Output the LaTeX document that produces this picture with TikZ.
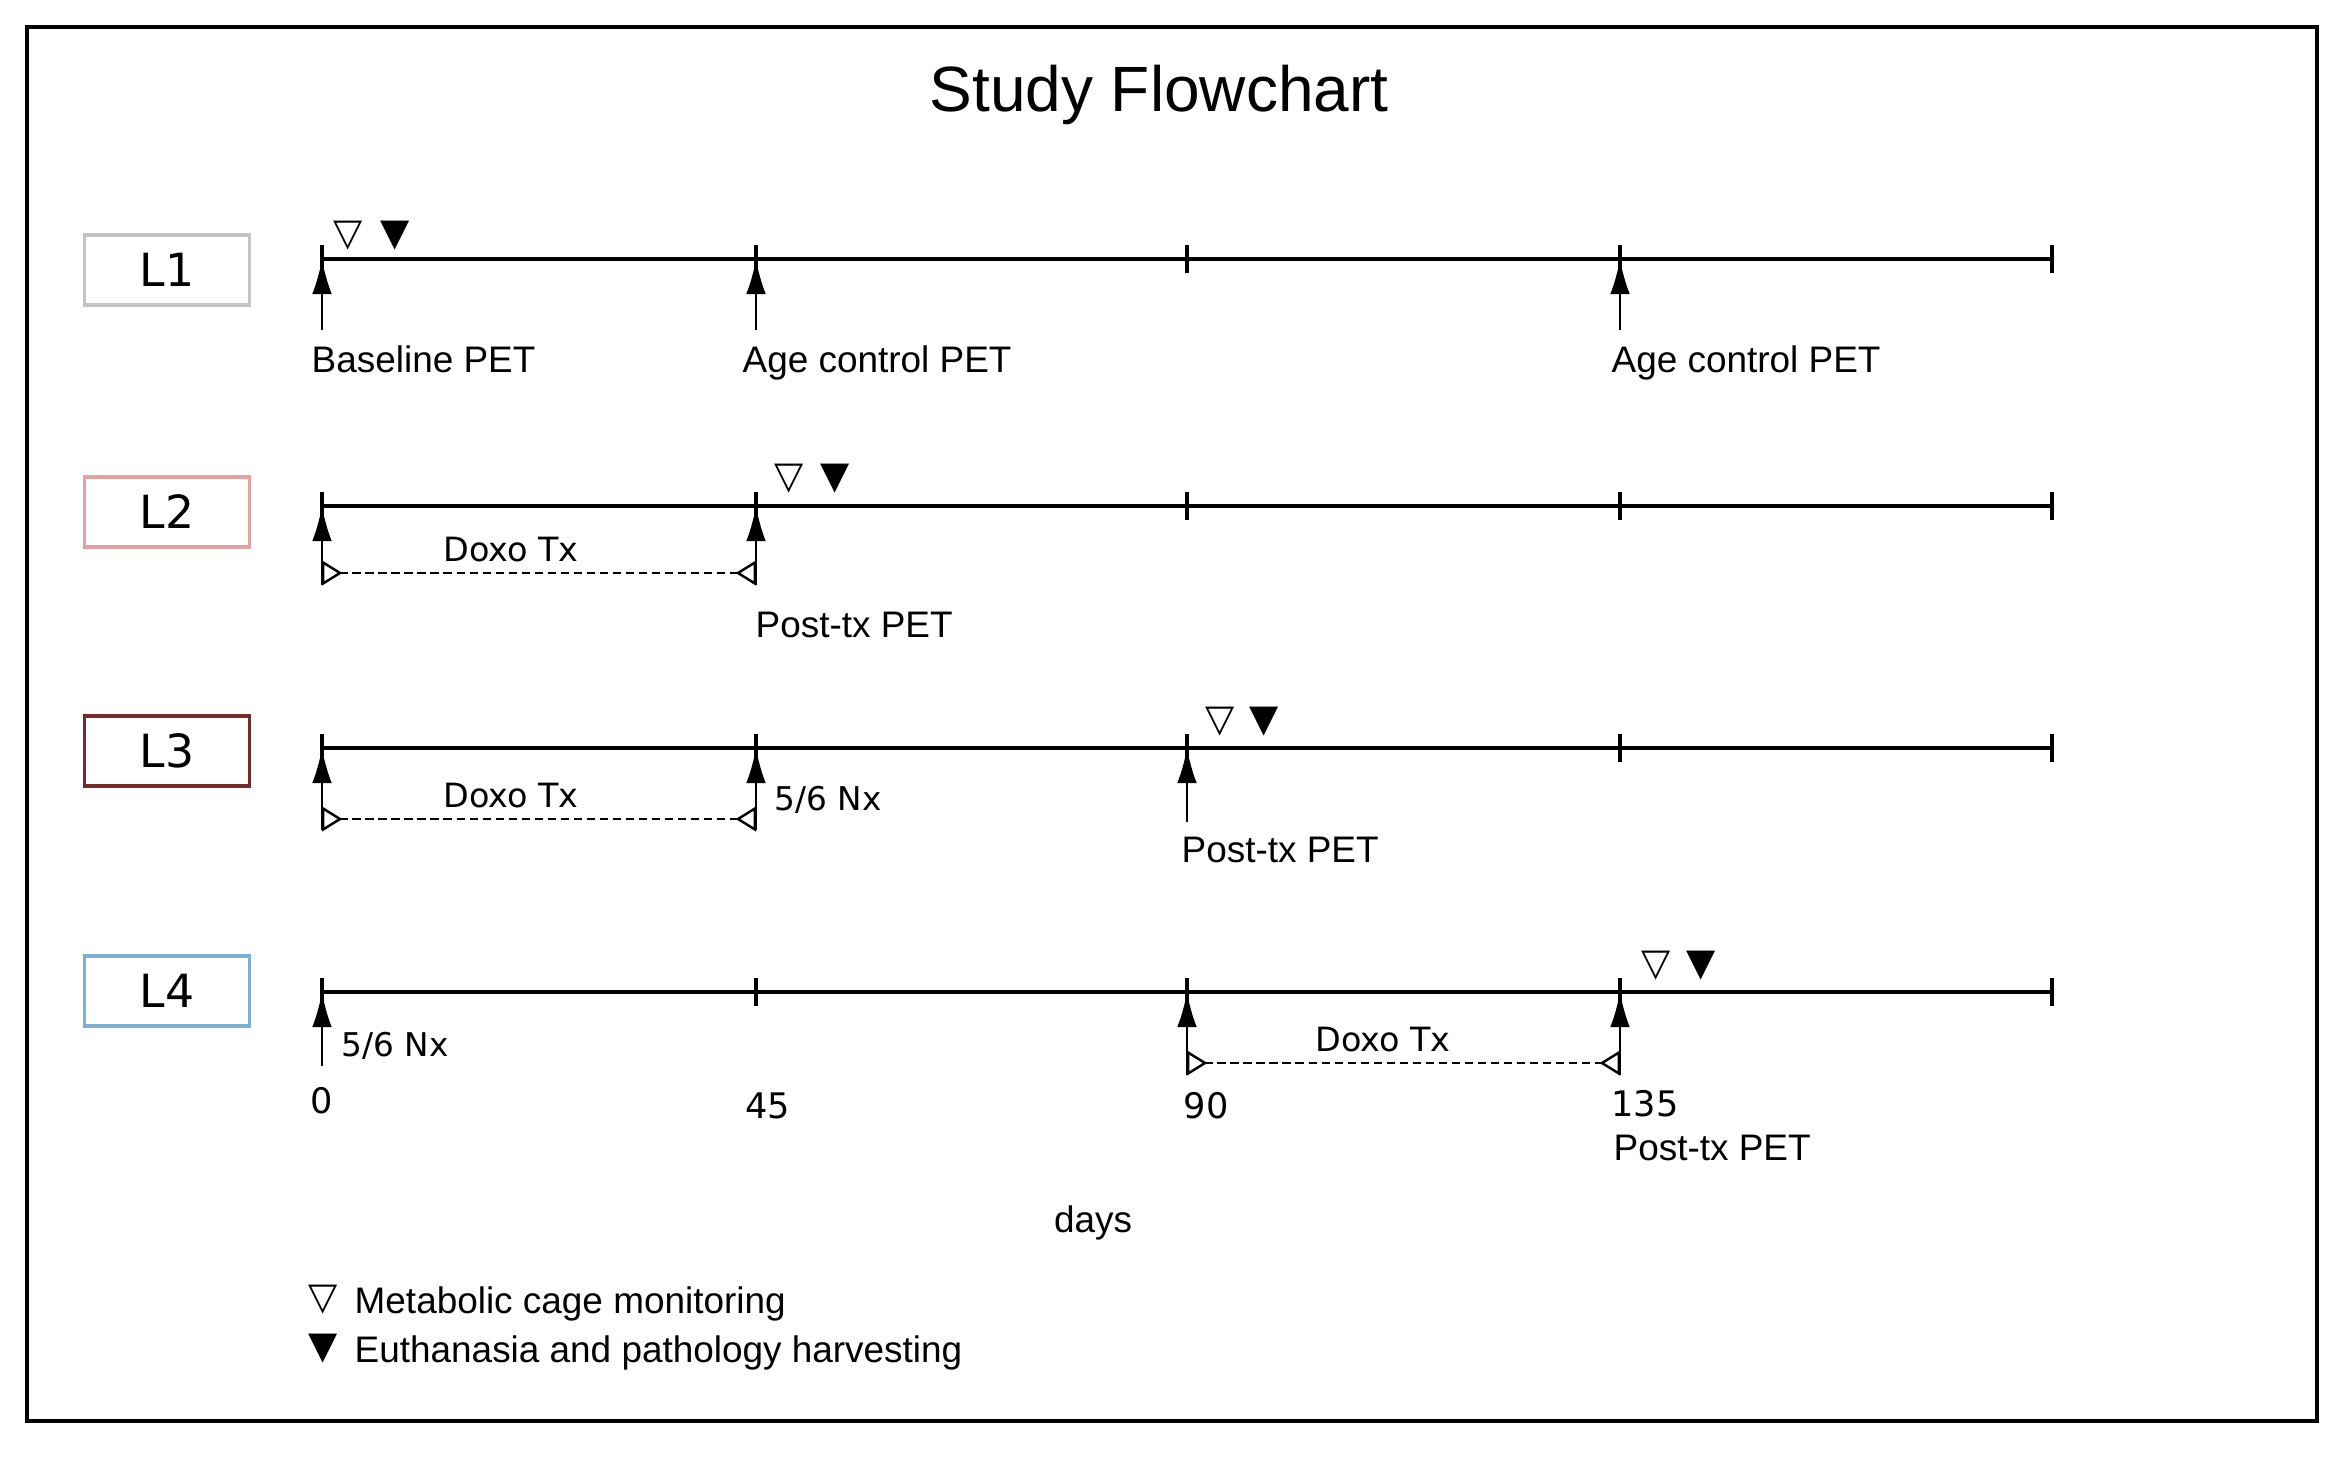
\documentclass[tikz,border=0pt]{standalone}
\usepackage{fontspec}
\setmainfont{Liberation Sans}
\newfontfamily\vfont{DejaVu Sans}
\usepackage{xcolor}
\usepackage{tikz}
\usetikzlibrary{arrows.meta,positioning}
\definecolor{laneGrey}{HTML}{C4C4C4}
\definecolor{lanePink}{HTML}{E6A0A0}
\definecolor{laneMaroon}{HTML}{742A2A}
\definecolor{laneBlue}{HTML}{7DB0D2}

\tikzset{
  lanebox/.style={draw, line width=0.9pt, minimum width=1.65cm, minimum height=0.7cm,
    inner sep=0pt, font=\vfont\fontsize{13}{15}\selectfont},
  timeline/.style={line width=0.95pt},
  evtarrow/.style={-{Latex[length=10pt,width=5.6pt]}, line width=0.65pt},
  txspan/.style={dash pattern=on 2.4pt off 1.3pt, line width=0.7pt,
    {Triangle[open,reversed,length=5.8pt,width=7pt]}-{Triangle[open,reversed,length=5.8pt,width=7pt]}},
  evtlabel/.style={anchor=base west, inner sep=0pt},
  txlabel/.style={anchor=base, inner sep=0pt, font=\vfont\fontsize{9.5}{11}\selectfont},
  nxlabel/.style={anchor=base west, inner sep=0pt, font=\vfont\fontsize{9.3}{11}\selectfont},
  daylabel/.style={anchor=base, inner sep=0pt, font=\vfont\fontsize{10}{12}\selectfont},
  cagemark/.style={inner sep=0pt, font=\vfont\fontsize{10.8}{12}\selectfont},
}

\begin{document}
\begin{tikzpicture}[x=0.01cm, y=-0.01cm, font=\fontsize{10.5}{12.6}\selectfont]
  \useasboundingbox (0,0) rectangle (2335,1457);
  % frame and title
  \draw[line width=1pt] (27,27) rectangle (2317,1421);
  \node[font=\fontsize{18.2}{22}\selectfont] (title) at (1159,95) {Study Flowchart};

  % lane boxes
  \node[lanebox, draw=laneGrey]   (L1) at (167,270) {L1};
  \node[lanebox, draw=lanePink]   (L2) at (167,512) {L2};
  \node[lanebox, draw=laneMaroon] (L3) at (167,751) {L3};
  \node[lanebox, draw=laneBlue]   (L4) at (167,991) {L4};

  % timelines: day -> x = 322 + day*9.61
  \foreach \n/\y in {1/259, 2/506, 3/748, 4/992} {
    \draw[timeline] (322,\y) -- (2052,\y);
    \foreach \d/\x in {0/322, 45/756, 90/1187, 135/1620, 180/2052} {
      \coordinate (t\n-\d) at (\x,\y);
      \draw[timeline] (\x,\y-14) -- (\x,\y+14);
    }
  }

  % event arrows (lane/day/x/foot)
  \foreach \n/\d/\x/\yb in {1/0/322/330, 1/45/756/330, 1/135/1620/330,
      2/0/322/585, 2/45/756/585,
      3/0/322/830, 3/45/756/830, 3/90/1187/822,
      4/0/322/1066, 4/90/1187/1075, 4/135/1620/1075} {
    \coordinate (a\n-\d) at (\x,\yb);
    \draw[evtarrow] (a\n-\d) -- (t\n-\d);
  }

  % doxo treatment spans
  \coordinate (s2a) at (322,573);  \coordinate (s2b) at (756,573);
  \coordinate (s3a) at (322,819);  \coordinate (s3b) at (756,819);
  \coordinate (s4a) at (1187,1063); \coordinate (s4b) at (1620,1063);
  \draw[txspan] (s2a) -- (s2b);
  \draw[txspan] (s3a) -- (s3b);
  \draw[txspan] (s4a) -- (s4b);
  \node[txlabel] (dx2) at (511,561) {Doxo Tx};
  \node[txlabel] (dx3) at (511,807) {Doxo Tx};
  \node[txlabel] (dx4) at (1383,1051) {Doxo Tx};

  % event labels
  \node[evtlabel] (pet1a) at (311,372) {Baseline PET};
  \node[evtlabel] (pet1b) at (742,372) {Age control PET};
  \node[evtlabel] (pet1c) at (1611,372) {Age control PET};
  \node[evtlabel] (pet2) at (755,637) {Post-tx PET};
  \node[nxlabel] (nx3) at (774,810) {5/6 Nx};
  \node[evtlabel] (pet3) at (1181,862) {Post-tx PET};
  \node[nxlabel] (nx4) at (341,1056) {5/6 Nx};
  \node[evtlabel] (pet4) at (1613,1160) {Post-tx PET};

  % day axis
  \node[daylabel] (d0) at (322,1113) {0};
  \node[daylabel] (d45) at (768,1118) {45};
  \node[daylabel] (d90) at (1206,1118) {90};
  \node[daylabel] (d135) at (1645,1116) {135};
  \node[anchor=base, inner sep=0pt] (days) at (1093,1232) {days};

  % cage / euthanasia markers
  \foreach \xo/\xf/\y in {348/395/236, 789/835/479, 1220/1264/722, 1656/1701/966} {
    \node[cagemark] at (\xo,\y) {▽};
    \node[cagemark] at (\xf,\y) {▼};
  }

  % legend
  \node[cagemark] (lgo) at (323,1300) {▽};
  \node[cagemark] (lgf) at (323,1349) {▼};
  \node[evtlabel] (lgotxt) at (354,1313) {Metabolic cage monitoring};
  \node[evtlabel] (lgftxt) at (354,1362) {Euthanasia and pathology harvesting};
\end{tikzpicture}
\end{document}
